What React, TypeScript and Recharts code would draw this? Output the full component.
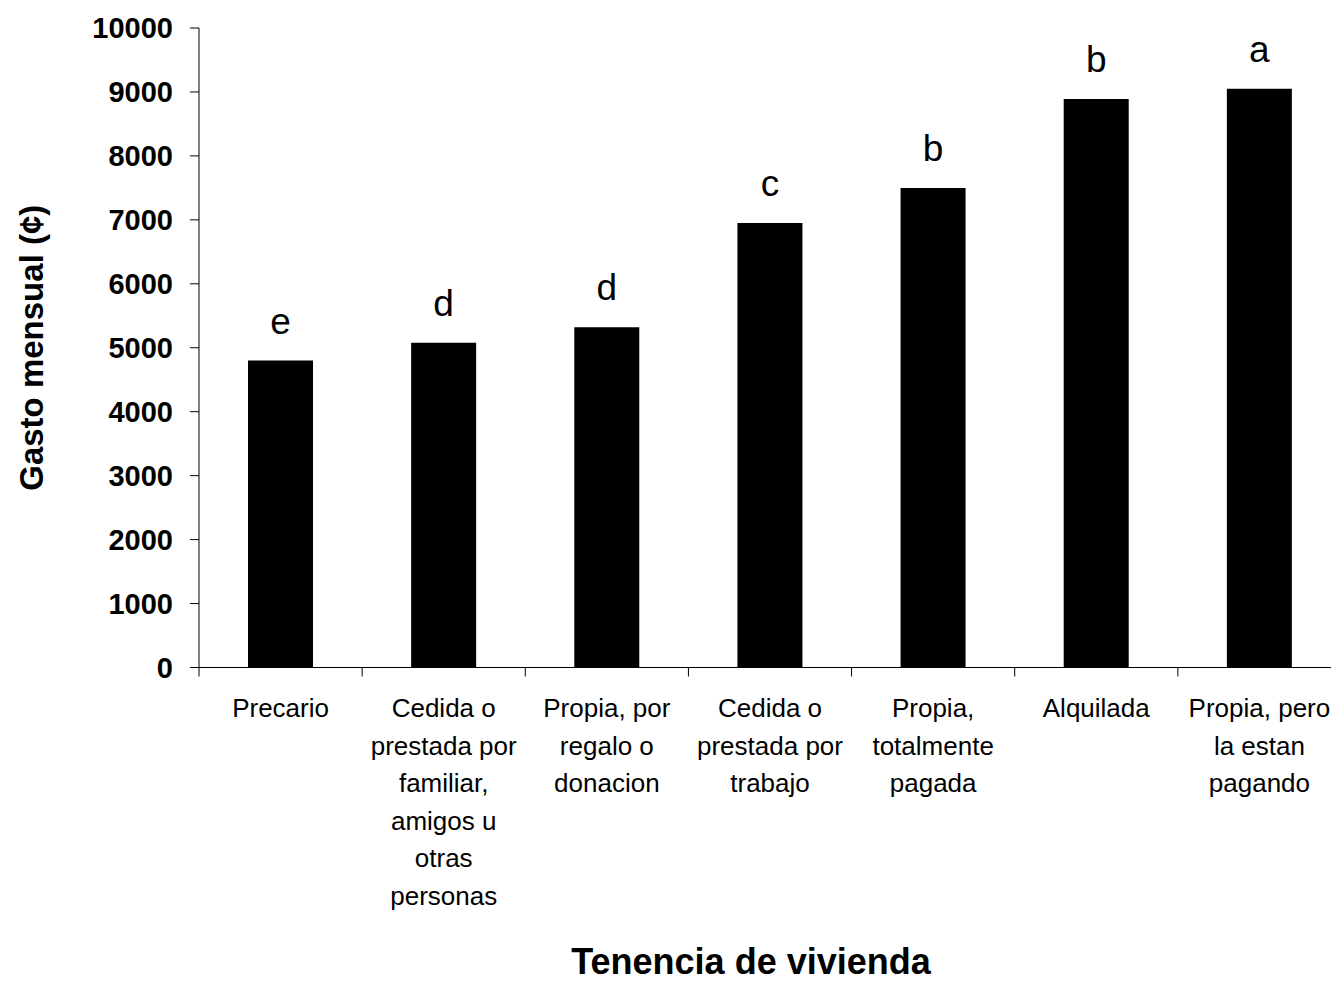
import { BarChart, Bar, XAxis, YAxis, LabelList, Label } from "recharts"

// Housing tenure categories (line breaks as printed under the axis)
const categories = [
  "Precario",
  "Cedida o\nprestada por\nfamiliar,\namigos u\notras\npersonas",
  "Propia, por\nregalo o\ndonacion",
  "Cedida o\nprestada por\ntrabajo",
  "Propia,\ntotalmente\npagada",
  "Alquilada",
  "Propia, pero\nla estan\npagando",
]

// Mean monthly spending (colones)
const gasto = [4800, 5080, 5320, 6950, 7500, 8890, 9050]

// Significance groups shown over each bar
const grupos = ["e", "d", "d", "c", "b", "b", "a"]

const yTicks = [0, 1000, 2000, 3000, 4000, 5000, 6000, 7000, 8000, 9000, 10000]

const data = categories.map((tenencia, i) => ({ tenencia, gasto: gasto[i], grupo: grupos[i] }))

const FONT = '"Liberation Sans", Arial, Helvetica, sans-serif'

function CategoryTick(props: any) {
  const { x, y, payload } = props
  const half = payload?.offset ?? 81.5
  const lines = String(payload.value).split("\n")
  return (
    <g>
      <line x1={x - half} x2={x - half} y1={y} y2={y + 9} stroke="#000" strokeWidth={1} />
      <text x={x} y={y + 49.5} textAnchor="middle" fontFamily={FONT} fontSize={26} fill="#000">
        {lines.map((line, i) => (
          <tspan key={i} x={x} dy={i === 0 ? 0 : 37.6}>
            {line}
          </tspan>
        ))}
      </text>
    </g>
  )
}

function GroupLabel(props: any) {
  const { x, y, width, value } = props
  return (
    <text x={x + width / 2} y={y - 27} textAnchor="middle" fontFamily={FONT} fontSize={37} fill="#000">
      {value}
    </text>
  )
}

export default function App() {
  return (
    <div style={{ position: "absolute", left: 0, top: 0, width: 1331, height: 983, overflow: "hidden", background: "#fff" }}>
      <BarChart
        width={1341}
        height={983}
        data={data}
        margin={{ top: 28, right: 0, bottom: 0, left: 0 }}
        barCategoryGap={0}
      >
        <XAxis
          dataKey="tenencia"
          interval={0}
          height={315.5}
          tickSize={0}
          tickMargin={0}
          tickLine={false}
          axisLine={{ stroke: "#000", strokeWidth: 1 }}
          tick={<CategoryTick />}
        >
          <Label
            content={(p: any) => {
              const vb = p.viewBox ?? { x: 199, y: 667.5, width: 1142, height: 315.5 }
              return (
                <text
                  x={vb.x + 552}
                  y={vb.y + vb.height - 9}
                  textAnchor="middle"
                  fontFamily={FONT}
                  fontWeight="bold"
                  fontSize={36}
                  fill="#000"
                >
                  Tenencia de vivienda
                </text>
              )
            }}
          />
        </XAxis>
        <YAxis
          width={199}
          domain={[0, 10000]}
          ticks={yTicks}
          interval={0}
          tickSize={9}
          tickMargin={17}
          axisLine={{ stroke: "#000", strokeWidth: 1 }}
          tickLine={{ stroke: "#000", strokeWidth: 1 }}
          tick={{ fontFamily: FONT, fontWeight: "bold", fontSize: 29, fill: "#000" }}
        >
          <Label
            content={(p: any) => {
              const vb = p.viewBox ?? { x: 0, y: 28, width: 199, height: 639.5 }
              const cy = vb.y + vb.height / 2
              const bx = vb.x + 43
              return (
                <text
                  x={bx}
                  y={cy}
                  transform={`rotate(-90 ${bx} ${cy})`}
                  textAnchor="middle"
                  fontFamily={FONT}
                  fontWeight="bold"
                  fontSize={33}
                  fill="#000"
                >
                  Gasto mensual (¢)
                </text>
              )
            }}
          />
        </YAxis>
        <Bar dataKey="gasto" fill="#000" barSize={65} isAnimationActive={false}>
          <LabelList dataKey="grupo" content={<GroupLabel />} />
        </Bar>
      </BarChart>
    </div>
  )
}
